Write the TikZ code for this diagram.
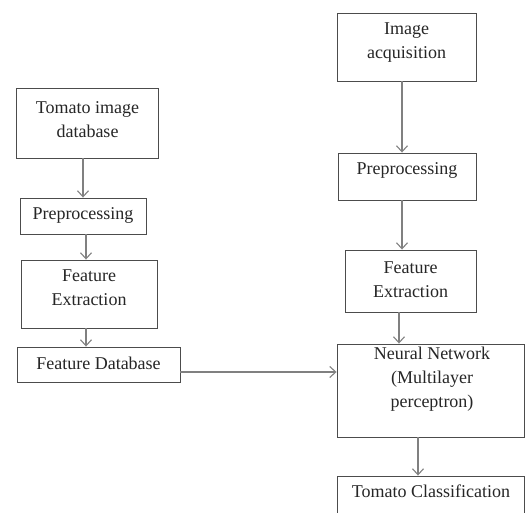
\documentclass[tikz,border=0pt]{standalone}
\usepackage{fontspec}
\setmainfont{Liberation Serif}
\usetikzlibrary{arrows.meta}
\begin{document}
\begin{tikzpicture}[x=1pt,y=-1pt,
  box/.style={draw=black!70, line width=0.9pt, inner sep=0pt, fill=white},
  txt/.style={align=center, inner sep=0pt, font=\fontsize{18}{24}\selectfont, text=black!85},
  arr/.style={draw=black!50, line width=1.3pt, -{Straight Barb[length=6pt,width=11pt,line width=1.1pt]}}]
\useasboundingbox (0,0) rectangle (525,513);
\clip (0,0) rectangle (525,513);
% boxes
\node[box, minimum width=142pt, minimum height=70pt] (db)   at (87,123)   {};
\node[box, minimum width=126pt, minimum height=36pt] (pre1) at (83,216)   {};
\node[box, minimum width=136pt, minimum height=68pt] (fe1)  at (89,294)   {};
\node[box, minimum width=163pt, minimum height=35pt] (fdb)  at (98.5,364.5) {};
\node[box, minimum width=139pt, minimum height=68pt] (acq)  at (406.5,47) {};
\node[box, minimum width=138pt, minimum height=47pt] (pre2) at (407,176.5) {};
\node[box, minimum width=131pt, minimum height=62pt] (fe2)  at (410.5,281) {};
\node[box, minimum width=187pt, minimum height=93pt] (nn)   at (430.5,390.5) {};
\node[box, minimum width=187pt, minimum height=50pt] (cls)  at (430.5,501) {};
% texts
\node[txt] (tdb)   at (87.5,120)  {Tomato image\\database};
\node[txt] (tpre1) at (83,215)    {Preprocessing};
\node[txt] (tfe1)  at (89,288)    {Feature\\Extraction};
\node[txt] (tfdb)  at (98.5,363)  {Feature Database};
\node[txt] (tacq)  at (406.5,43)  {Image\\acquisition};
\node[txt] (tpre2) at (407,170)   {Preprocessing};
\node[txt] (tfe2)  at (410.5,280) {Feature\\Extraction};
\node[txt] (tnn)   at (432,379)   {Neural Network\\(Multilayer\\perceptron)};
\node[txt] (tcls)  at (431,491)   {Tomato Classification};
% connectors
\draw[arr] (db.south -| pre1.north) -- (pre1.north);
\draw[arr] ([xshift=3pt]pre1.south) -- ([xshift=3pt]pre1.south |- fe1.north);
\draw[arr] ([xshift=-3pt]fe1.south) -- ([xshift=-3pt]fe1.south |- fdb.north);
\draw[arr] ([xshift=-4.5pt]acq.south) -- ([xshift=-4.5pt]acq.south |- pre2.north);
\draw[arr] ([xshift=-5pt]pre2.south) -- ([xshift=-5pt]pre2.south |- fe2.north);
\draw[arr] ([xshift=-11.5pt]fe2.south) -- ([xshift=-11.5pt]fe2.south |- nn.north);
\draw[arr] ([xshift=-12.5pt]nn.south) -- ([xshift=-12.5pt]nn.south |- cls.north);
\draw[arr] ([yshift=-7.5pt]fdb.east) -- ([yshift=-7.5pt]fdb.east -| nn.west);
\end{tikzpicture}
\end{document}
